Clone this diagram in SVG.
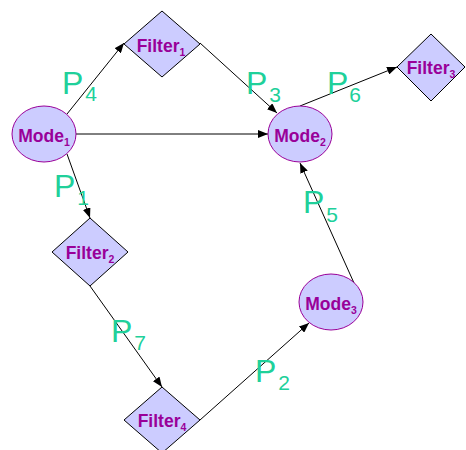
<svg xmlns="http://www.w3.org/2000/svg" width="466" height="450" viewBox="0 0 466 450">
  <defs>
    <marker id="arrow" viewBox="0 0 10 8" refX="10" refY="4" markerWidth="10" markerHeight="8" markerUnits="userSpaceOnUse" orient="auto">
      <path d="M0,0 L10,4 L0,8 Z" fill="#000"/>
    </marker>
  </defs>
  <style>
    .mode { fill: #CCCCFF; stroke: #990099; stroke-width: 1; }
    .filter { fill: #CCCCFF; stroke: #000; stroke-width: 1; }
    .name { font-family: "Liberation Sans", Arial, sans-serif; font-weight: bold; font-size: 17.5px; fill: #990099; text-anchor: middle; }
    .sub { font-size: 10.5px; }
    .edge { stroke: #000; stroke-width: 1; fill: none; marker-end: url(#arrow); }
    .plabel { font-family: "Liberation Sans", Arial, sans-serif; font-size: 32px; fill: #20D09A; }
    .psub { font-size: 21px; }
  </style>

  <rect width="466" height="450" fill="#fff"/>

  <g id="connectors">
    <line class="edge" x1="67" y1="114" x2="124" y2="43"/>
    <line class="edge" x1="200" y1="43" x2="277" y2="113"/>
    <line class="edge" x1="76" y1="134" x2="268" y2="134"/>
    <line class="edge" x1="300" y1="106" x2="397" y2="67"/>
    <line class="edge" x1="67" y1="154" x2="90" y2="218"/>
    <line class="edge" x1="90" y1="286" x2="162" y2="387"/>
    <line class="edge" x1="200" y1="420" x2="309" y2="323"/>
    <line class="edge" x1="354" y1="283" x2="300" y2="163"/>
  </g>

  <g id="labels">
    <text class="plabel" x="62" y="94">P<tspan class="psub" dx="2" dy="7">4</tspan></text>
    <text class="plabel" x="246" y="94">P<tspan class="psub" dx="2" dy="8">3</tspan></text>
    <text class="plabel" x="327" y="94">P<tspan class="psub" dx="1" dy="8">6</tspan></text>
    <text class="plabel" x="54" y="197">P<tspan class="psub" dx="2" dy="8">1</tspan></text>
    <text class="plabel" x="111" y="342">P<tspan class="psub" dx="2" dy="8">7</tspan></text>
    <text class="plabel" x="255" y="382">P<tspan class="psub" dx="2" dy="8">2</tspan></text>
    <text class="plabel" x="303" y="213">P<tspan class="psub" dx="2" dy="9">5</tspan></text>
  </g>

  <g id="mode1">
    <ellipse class="mode" cx="44" cy="134" rx="32" ry="28"/>
    <text class="name" x="44" y="142">Mode<tspan class="sub" dy="4">1</tspan></text>
  </g>
  <g id="mode2">
    <ellipse class="mode" cx="300" cy="134" rx="32" ry="28"/>
    <text class="name" x="300" y="142">Mode<tspan class="sub" dy="4">2</tspan></text>
  </g>
  <g id="mode3">
    <ellipse class="mode" cx="331" cy="302" rx="32" ry="28"/>
    <text class="name" x="331" y="310">Mode<tspan class="sub" dy="4">3</tspan></text>
  </g>

  <g id="filter1">
    <polygon class="filter" points="162,11 200,44 162,77 124,44"/>
    <text class="name" x="161" y="52">Filter<tspan class="sub" dy="4">1</tspan></text>
  </g>
  <g id="filter2">
    <polygon class="filter" points="90,218 128,252 90,286 52,252"/>
    <text class="name" x="90" y="259">Filter<tspan class="sub" dy="4">2</tspan></text>
  </g>
  <g id="filter3">
    <polygon class="filter" points="431,34 465,67 431,101 397,67"/>
    <text class="name" x="431" y="74">Filter<tspan class="sub" dy="4">3</tspan></text>
  </g>
  <g id="filter4">
    <polygon class="filter" points="162,387 200,420 162,453 124,420"/>
    <text class="name" x="162" y="427">Filter<tspan class="sub" dy="4">4</tspan></text>
  </g>
</svg>
